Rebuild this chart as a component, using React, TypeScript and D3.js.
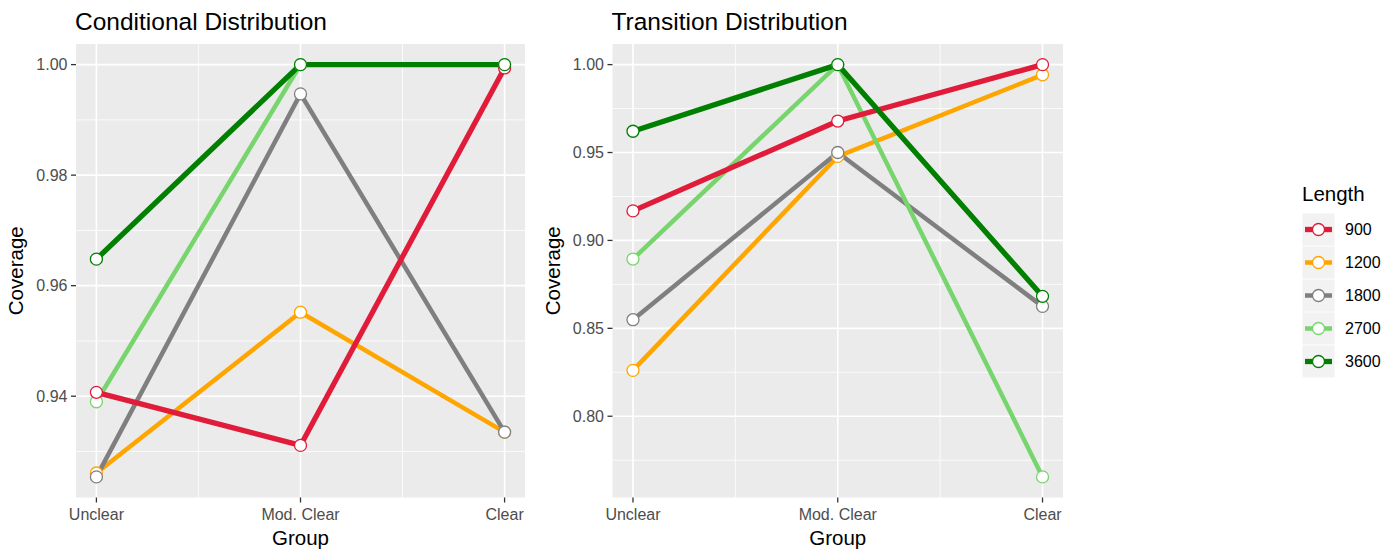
import { useEffect } from 'react';
import * as d3 from 'd3';

// categories on the x axis
const groups = ['Unclear', 'Mod. Clear', 'Clear'];

// series (legend order)
const lengths = ['900', '1200', '1800', '2700', '3600'];
const lengthColors = ['#e01c3a', '#ffa500', '#7f7f7f', '#78d56d', '#007f00'];
const lineWidths = [5.3, 4.5, 4.5, 4.5, 5.3];
// order the series are drawn in (last one on top)
const drawOrder = ['1200', '1800', '2700', '900', '3600'];

// Conditional Distribution coverage, one array per length
const conditional900 = [0.9407, 0.9311, 0.9994];
const conditional1200 = [0.9261, 0.9552, 0.9335];
const conditional1800 = [0.9254, 0.9947, 0.9335];
const conditional2700 = [0.939, 1.0, 1.0];
const conditional3600 = [0.9648, 1.0, 1.0];

// Transition Distribution coverage
const transition900 = [0.9168, 0.9679, 1.0];
const transition1200 = [0.8261, 0.9478, 0.9942];
const transition1800 = [0.8549, 0.95, 0.8625];
const transition2700 = [0.8894, 1.0, 0.7655];
const transition3600 = [0.9621, 1.0, 0.8682];

const conditionalTicks = [0.94, 0.96, 0.98, 1.0];
const transitionTicks = [0.8, 0.85, 0.9, 0.95, 1.0];

const FONT = '"Liberation Sans", Arial, Helvetica, sans-serif';
const WIDTH = 1398;
const HEIGHT = 554;
const PANEL_TOP = 44;
const PANEL_BOTTOM = 497.5;

type Series = { name: string; values: number[] };

interface PanelProps {
  title: string;
  left: number;
  right: number;
  series: Series[];
  ticks: number[];
  yTitleX: number;
}

function colorOf(name: string) {
  return lengthColors[lengths.indexOf(name)];
}

function widthOf(name: string) {
  return lineWidths[lengths.indexOf(name)];
}

function Panel({ title, left, right, series, ticks, yTitleX }: PanelProps) {
  const all = series.flatMap((s) => s.values);
  const lo = d3.min(all) ?? 0;
  const hi = d3.max(all) ?? 1;
  const pad = (hi - lo) * 0.05;

  const x = d3.scaleLinear().domain([0.9, 3.1]).range([left, right]);
  const y = d3.scaleLinear().domain([lo - pad, hi + pad]).range([PANEL_BOTTOM, PANEL_TOP]);

  const step = ticks[1] - ticks[0];
  const minorY = [ticks[0] - step / 2, ...ticks.map((t) => t + step / 2)].filter(
    (v) => v > lo - pad && v < hi + pad
  );
  const majorX = [1, 2, 3];
  const minorX = [1.5, 2.5];

  const line = d3
    .line<number>()
    .x((_, i) => x(i + 1))
    .y((v) => y(v));

  const ordered = drawOrder.map((n) => series.find((s) => s.name === n)!).filter(Boolean);

  return (
    <g>
      <text x={left - 1} y={30} fontSize={24.5} fill="#000">
        {title}
      </text>
      <rect x={left} y={PANEL_TOP} width={right - left} height={PANEL_BOTTOM - PANEL_TOP} fill="#ebebeb" />
      {minorY.map((v) => (
        <line key={`my${v}`} x1={left} x2={right} y1={y(v)} y2={y(v)} stroke="#fff" strokeWidth={0.8} />
      ))}
      {minorX.map((v) => (
        <line key={`mx${v}`} x1={x(v)} x2={x(v)} y1={PANEL_TOP} y2={PANEL_BOTTOM} stroke="#fff" strokeWidth={0.8} />
      ))}
      {ticks.map((v) => (
        <line key={`Y${v}`} x1={left} x2={right} y1={y(v)} y2={y(v)} stroke="#fff" strokeWidth={1.6} />
      ))}
      {majorX.map((v) => (
        <line key={`X${v}`} x1={x(v)} x2={x(v)} y1={PANEL_TOP} y2={PANEL_BOTTOM} stroke="#fff" strokeWidth={1.6} />
      ))}

      {ordered.map((s) => (
        <path
          key={`l${s.name}`}
          d={line(s.values) ?? ''}
          fill="none"
          stroke={colorOf(s.name)}
          strokeWidth={widthOf(s.name)}
        />
      ))}
      {ordered.map((s) =>
        s.values.map((v, i) => (
          <circle
            key={`p${s.name}-${i}`}
            cx={x(i + 1)}
            cy={y(v)}
            r={6}
            fill="#fff"
            stroke={colorOf(s.name)}
            strokeWidth={1.3}
          />
        ))
      )}

      {/* y axis */}
      {ticks.map((v) => (
        <g key={`yt${v}`}>
          <line x1={left - 5} x2={left} y1={y(v)} y2={y(v)} stroke="#333" strokeWidth={1.3} />
          <text x={left - 8.5} y={y(v) + 5.6} textAnchor="end" fontSize={16} fill="#4d4d4d">
            {v.toFixed(2)}
          </text>
        </g>
      ))}
      {/* x axis */}
      {groups.map((g, i) => (
        <g key={`xt${g}`}>
          <line x1={x(i + 1)} x2={x(i + 1)} y1={PANEL_BOTTOM} y2={PANEL_BOTTOM + 5} stroke="#333" strokeWidth={1.3} />
          <text x={x(i + 1)} y={520} textAnchor="middle" fontSize={16} fill="#4d4d4d">
            {g}
          </text>
        </g>
      ))}
      <text x={(left + right) / 2} y={545} textAnchor="middle" fontSize={20.5} fill="#000">
        Group
      </text>
      <text
        transform={`translate(${yTitleX},${(PANEL_TOP + PANEL_BOTTOM) / 2}) rotate(-90)`}
        textAnchor="middle"
        fontSize={20.5}
        fill="#000"
      >
        Coverage
      </text>
    </g>
  );
}

function Legend() {
  const x0 = 1302.5;
  const y0 = 213.5;
  const key = 32;
  const gap = 33;
  return (
    <g>
      <text x={1302} y={201} fontSize={20.5} fill="#000">
        Length
      </text>
      {lengths.map((n, i) => {
        const cy = y0 + i * gap + key / 2;
        return (
          <g key={n}>
            <rect x={x0} y={y0 + i * gap} width={key} height={key} fill="#f2f2f2" />
            <line x1={x0 + 2.5} x2={x0 + key - 2.5} y1={cy} y2={cy} stroke={colorOf(n)} strokeWidth={widthOf(n)} />
            <circle cx={x0 + key / 2} cy={cy} r={6} fill="#fff" stroke={colorOf(n)} strokeWidth={1.3} />
            <text x={1345} y={cy + 5.6} fontSize={16} fill="#000">
              {n}
            </text>
          </g>
        );
      })}
    </g>
  );
}

export default function App() {
  useEffect(() => {
    document.body.style.margin = '0';
  }, []);

  const conditional: Series[] = [
    { name: '900', values: conditional900 },
    { name: '1200', values: conditional1200 },
    { name: '1800', values: conditional1800 },
    { name: '2700', values: conditional2700 },
    { name: '3600', values: conditional3600 },
  ];
  const transition: Series[] = [
    { name: '900', values: transition900 },
    { name: '1200', values: transition1200 },
    { name: '1800', values: transition1800 },
    { name: '2700', values: transition2700 },
    { name: '3600', values: transition3600 },
  ];

  return (
    <svg
      width={WIDTH}
      height={HEIGHT}
      viewBox={`0 0 ${WIDTH} ${HEIGHT}`}
      style={{ position: 'absolute', left: 0, top: 0, background: '#fff' }}
      fontFamily={FONT}
    >
      <rect width={WIDTH} height={HEIGHT} fill="#fff" />
      <Panel
        title="Conditional Distribution"
        left={76}
        right={525}
        series={conditional}
        ticks={conditionalTicks}
        yTitleX={23}
      />
      <Panel
        title="Transition Distribution"
        left={612.5}
        right={1063}
        series={transition}
        ticks={transitionTicks}
        yTitleX={560}
      />
      <Legend />
    </svg>
  );
}
